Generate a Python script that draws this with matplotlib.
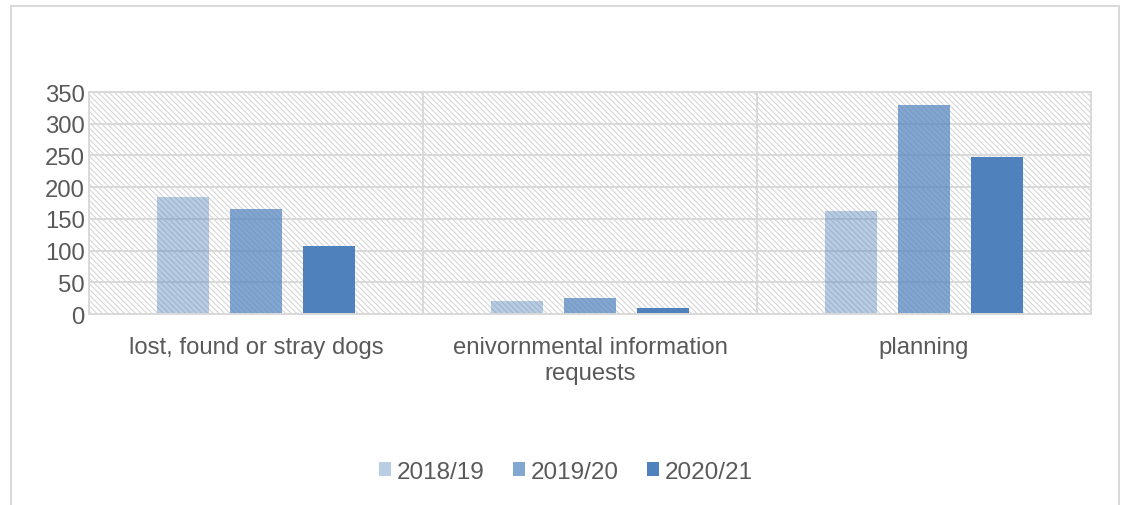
import matplotlib
matplotlib.use("Agg")
import matplotlib.pyplot as plt
from matplotlib.patches import Rectangle
from matplotlib.lines import Line2D
import numpy as np

categories = ["lost, found or stray dogs", "enivornmental information\nrequests", "planning"]
series_names = ["2018/19", "2019/20", "2020/21"]
v_2018_19 = [185, 21, 162]
v_2019_20 = [165, 26, 330]
v_2020_21 = [107, 9, 247]
values = [v_2018_19, v_2019_20, v_2020_21]
yticks = [0, 50, 100, 150, 200, 250, 300, 350]

base = "#4F81BD"
alphas = [0.40, 0.70, 1.0]
legend_colors = ["#B9CDE5", "#82A7D0", "#4F81BD"]

plt.rcParams['font.family'] = ['Liberation Sans', 'DejaVu Sans']
plt.rcParams['hatch.color'] = '#D6D6D6'
plt.rcParams['hatch.linewidth'] = 0.8

fig = plt.figure(figsize=(11.23, 5.06), dpi=100)
W, H = 1123, 506
ax = fig.add_axes([89 / W, (H - 315) / H, (1091 - 89) / W, (315 - 93) / H])

ax.set_xlim(-0.5, 2.5)
ax.set_ylim(0, 350)

# hatched plot background
ax.add_patch(Rectangle((0, 0), 1, 1, transform=ax.transAxes, facecolor='white',
                       edgecolor='#D6D6D6', hatch='\\' * 6, linewidth=0, zorder=0))

grid_c = '#D9D9D9'
for y in yticks[1:]:
    ax.axhline(y, color=grid_c, lw=1.4, zorder=1)
for xv in [0.5, 1.5]:
    ax.axvline(xv, color=grid_c, lw=1.4, zorder=1)
for s in ax.spines.values():
    s.set_color(grid_c)
    s.set_linewidth(1.4)

x = np.arange(len(categories))
bw = 0.156
off = 0.219
for i, vals in enumerate(values):
    ax.bar(x + (i - 1) * off, vals, width=bw, color=base, alpha=alphas[i],
           zorder=2, linewidth=0)

ax.set_yticks(yticks)
ax.set_yticklabels([str(t) for t in yticks])
ax.set_xticks(x)
ax.set_xticklabels(categories, linespacing=1.2)
ax.tick_params(axis='both', length=0, labelsize=17.2, colors='#595959')
ax.tick_params(axis='y', pad=3)
ax.tick_params(axis='x', pad=16)

# legend
handles = [Rectangle((0, 0), 1, 1, facecolor=c, edgecolor='none') for c in legend_colors]
fig.legend(handles, series_names, loc='center', bbox_to_anchor=(566 / W, (H - 473) / H),
           ncol=3, frameon=False, fontsize=17.5, labelcolor='#595959',
           handlelength=0.5, handleheight=0.5, handletextpad=0.25, columnspacing=1.15)

# outer chart frame
fig.add_artist(Line2D([11 / W, 11 / W], [0, (H - 7) / H], color=grid_c, lw=1.4))
fig.add_artist(Line2D([11 / W, 1119 / W], [(H - 7) / H, (H - 7) / H], color=grid_c, lw=1.4))
fig.add_artist(Line2D([1119 / W, 1119 / W], [0, (H - 7) / H], color=grid_c, lw=1.4))

fig.savefig("out.png", dpi=100, facecolor='white')
